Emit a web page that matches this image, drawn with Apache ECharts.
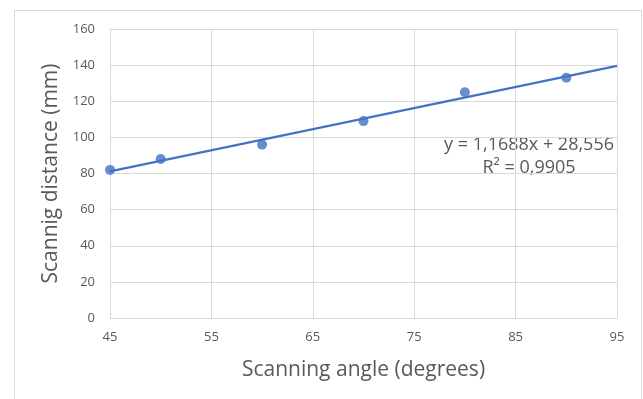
<!DOCTYPE html>
<html><head><meta charset="utf-8">
<script src="https://cdn.jsdelivr.net/npm/echarts@6/dist/echarts.min.js"></script>
<style>html,body{margin:0;padding:0;background:#fff}#c{width:643px;height:399px}</style>
</head><body><div id="c"></div>
<script>
const angles = [45, 50, 60, 70, 80, 90];
const distances = [82, 88, 96, 109, 125, 133];
const trendX = [45, 95];
const trendY = [81.15, 139.6];
const equationText = 'y = 1,1688x + 28,556';
const r2Text = 'R² = 0,9905';
const xTitle = 'Scanning angle (degrees)';
const yTitle = 'Scannig distance (mm)';

const font = 'Open Sans, Noto Sans, sans-serif';
const txt = '#595959';
const chart = echarts.init(document.getElementById('c'));
chart.setOption({
  animation: false,
  backgroundColor: '#fff',
  grid: {left: 110, right: 26, top: 29, bottom: 81},
  xAxis: {
    type: 'value', min: 45, max: 95, interval: 10,
    name: xTitle, nameLocation: 'middle', nameGap: 42,
    nameTextStyle: {fontSize: 21, color: txt, fontFamily: font},
    axisLine: {show: true, lineStyle: {color: '#d9d9d9'}},
    axisTick: {show: false},
    axisLabel: {fontSize: 13, color: txt, fontFamily: font, margin: 13},
    splitLine: {show: true, lineStyle: {color: '#d9d9d9'}}
  },
  yAxis: {
    type: 'value', min: 0, max: 160, interval: 20,
    name: yTitle, nameLocation: 'middle', nameGap: 46,
    nameTextStyle: {fontSize: 21, color: txt, fontFamily: font},
    axisLine: {show: true, lineStyle: {color: '#d9d9d9'}},
    axisTick: {show: false},
    axisLabel: {fontSize: 13, color: txt, fontFamily: font, margin: 15},
    splitLine: {show: true, lineStyle: {color: '#d9d9d9'}}
  },
  graphic: [
    {type: 'rect', shape: {x: 14.5, y: 10.5, width: 627, height: 400}, style: {fill: 'none', stroke: '#d9d9d9', lineWidth: 1}, silent: true, z: -1},
    {type: 'text', x: 529, y: 145, style: {text: equationText, fontSize: 18, fill: txt, fontFamily: font, align: 'center', verticalAlign: 'middle'}},
    {type: 'text', x: 529, y: 168, style: {text: r2Text, fontSize: 18, fill: txt, fontFamily: font, align: 'center', verticalAlign: 'middle'}}
  ],
  series: [
    {type: 'line', data: trendX.map((x, i) => [x, trendY[i]]), symbol: 'none', lineStyle: {color: '#4472C4', width: 2.2}, z: 2},
    {type: 'scatter', data: angles.map((x, i) => [x, distances[i]]), symbolSize: 10, itemStyle: {color: '#4472C4'}, z: 3}
  ]
});
</script></body></html>
